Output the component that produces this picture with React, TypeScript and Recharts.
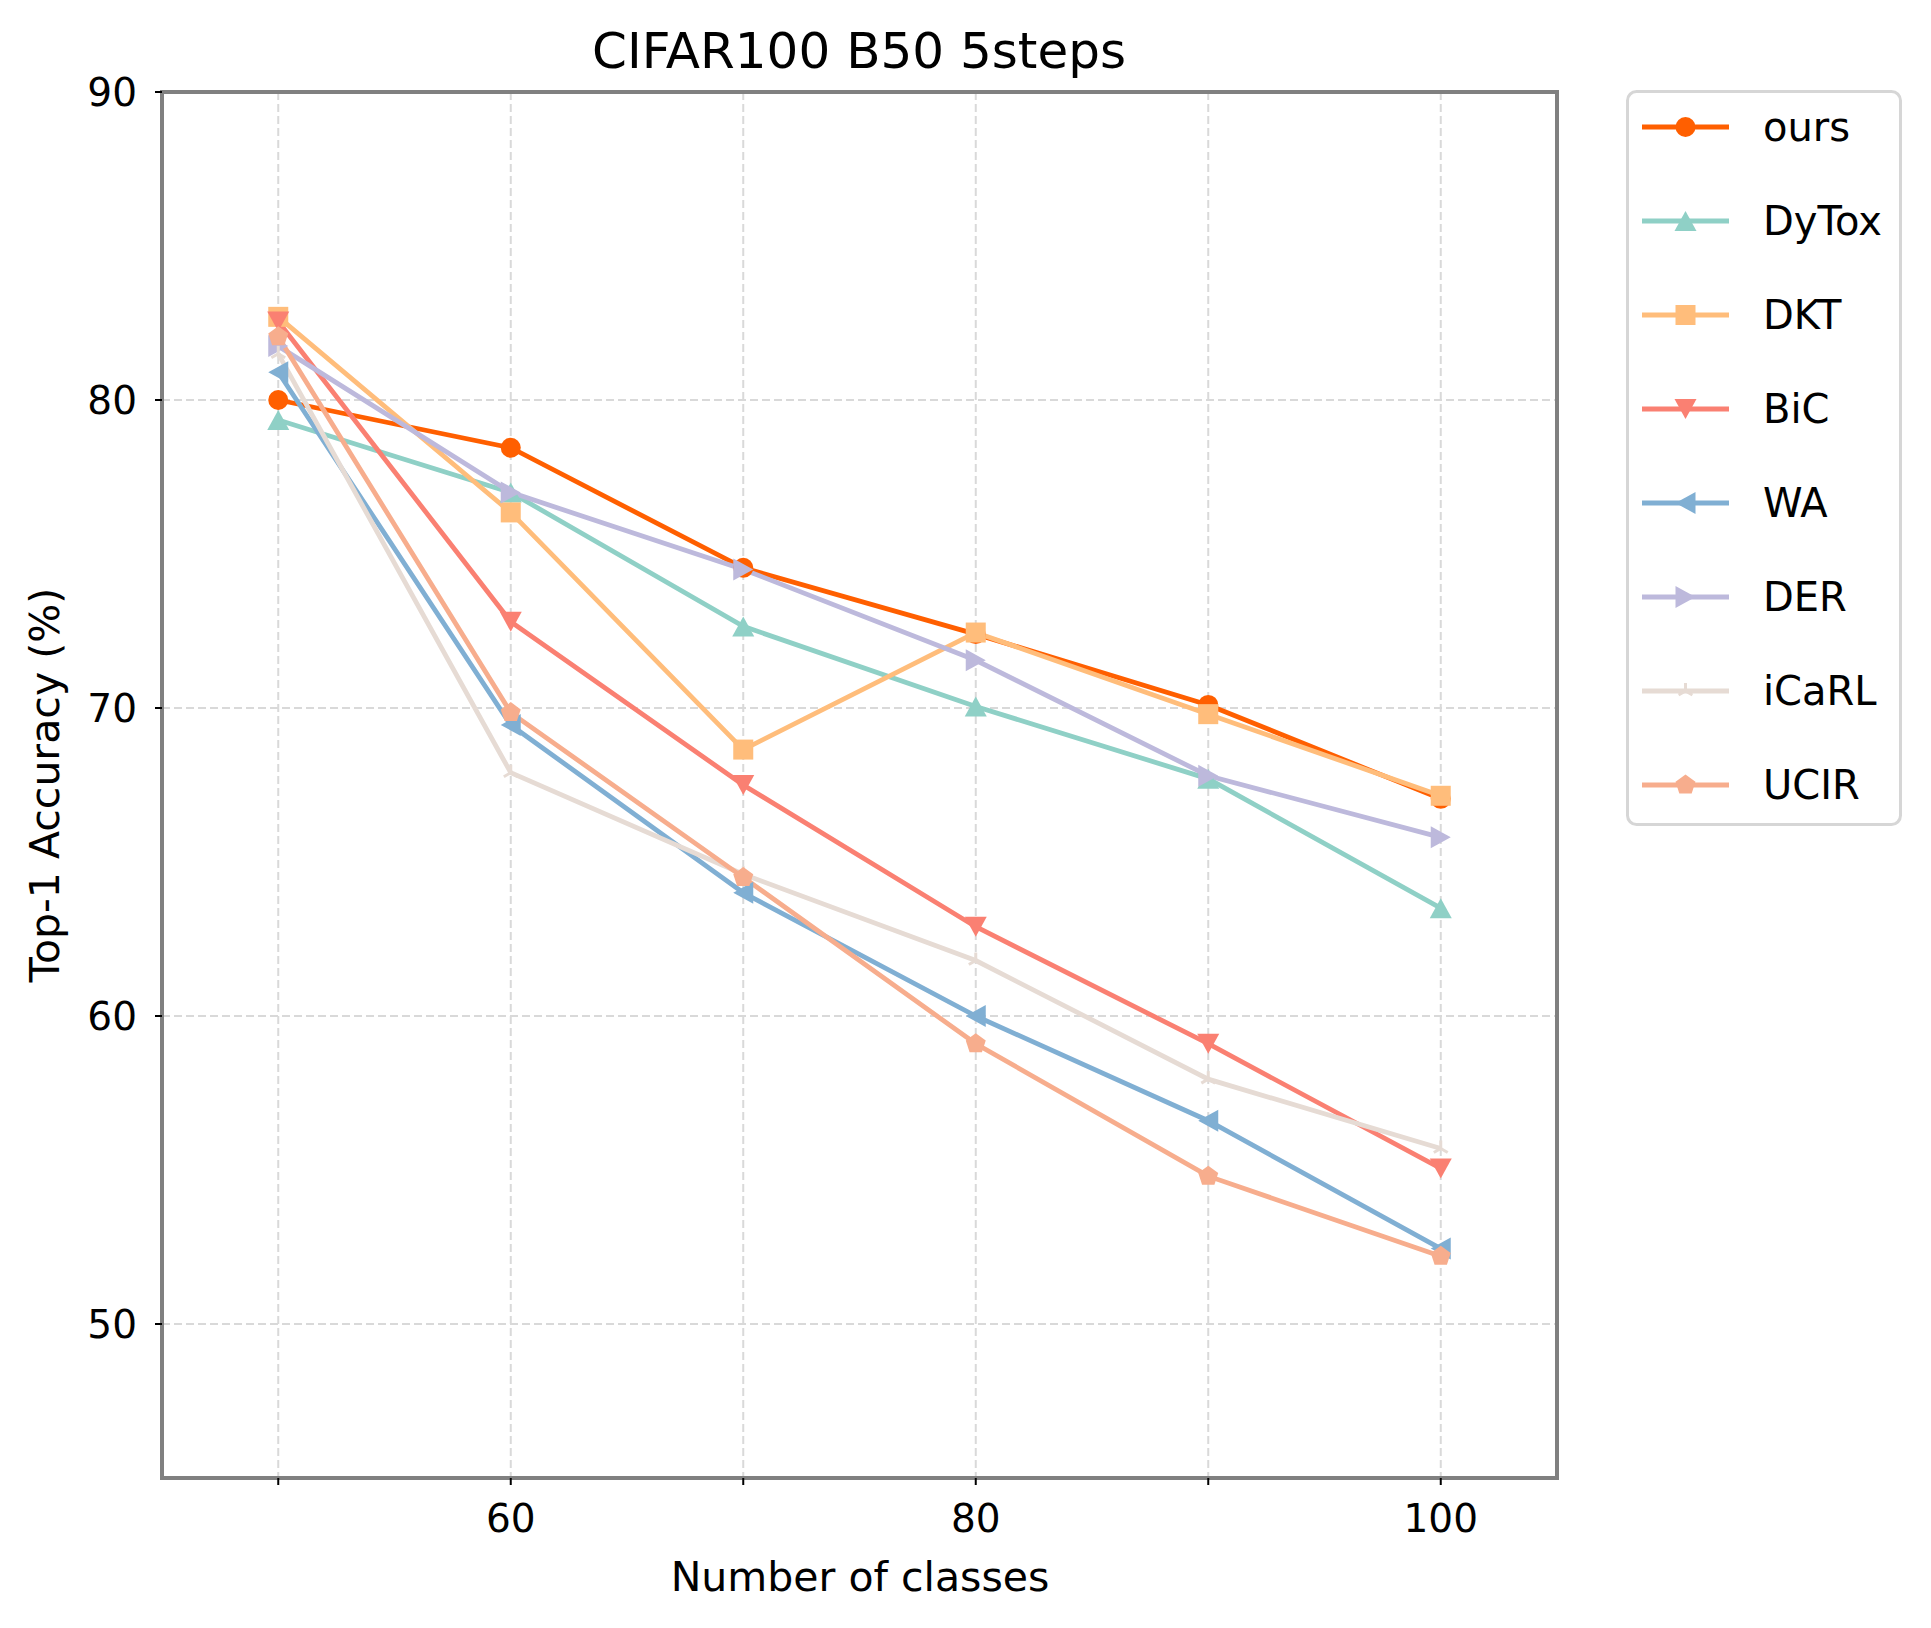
import React from 'react';
import { LineChart, Line, XAxis, YAxis, CartesianGrid, ReferenceArea, Legend } from 'recharts';

// ---------- data ----------
const classes = [50, 60, 70, 80, 90, 100];
const seriesNames = ['ours', 'DyTox', 'DKT', 'BiC', 'WA', 'DER', 'iCaRL', 'UCIR'];
const ours = [80.0, 78.45, 74.55, 72.4, 70.1, 67.05];
const dytox = [79.35, 77.0, 72.65, 70.05, 67.7, 63.5];
const dkt = [82.7, 76.35, 68.65, 72.45, 69.8, 67.15];
const bic = [82.55, 72.8, 67.5, 62.9, 59.1, 55.05];
const wa = [80.9, 69.45, 64.0, 60.0, 56.6, 52.45];
const der = [81.75, 77.0, 74.5, 71.55, 67.8, 65.8];
const icarl = [81.5, 67.9, 64.6, 61.8, 57.95, 55.7];
const ucir = [82.05, 69.85, 64.5, 59.1, 54.8, 52.2];

const xTicks = [50, 60, 70, 80, 90, 100];
const xTickLabels = ['', '60', '', '80', '', '100'];
const yTicks = [50, 60, 70, 80, 90];

const titleText = 'CIFAR100 B50 5steps';
const xLabelText = 'Number of classes';
const yLabelText = 'Top-1 Accuracy (%)';

// ---------- styles ----------
const FONT = '"DejaVu Sans", sans-serif';
const LINE_W = 4.8;

type Shape = 'circle' | 'triUp' | 'square' | 'triDown' | 'triLeft' | 'triRight' | 'tri2' | 'pentagon';

const seriesValues = [ours, dytox, dkt, bic, wa, der, icarl, ucir];
const seriesColors = ['#ff5f00', '#8fd0c6', '#ffbd7b', '#fa8072', '#80afd3', '#bdb9dc', '#e6dbd4', '#f7ad8d'];
const seriesShapes: Shape[] = ['circle', 'triUp', 'square', 'triDown', 'triLeft', 'triRight', 'tri2', 'pentagon'];

const series = seriesNames.map((name, i) => ({
  name,
  key: 's' + i,
  values: seriesValues[i],
  color: seriesColors[i],
  shape: seriesShapes[i],
}));

const data = classes.map((x, j) => {
  const row: Record<string, number> = { x };
  series.forEach((s) => {
    row[s.key] = s.values[j];
  });
  return row;
});

function Marker({ shape, cx, cy, color }: { shape: Shape; cx: number; cy: number; color: string }) {
  switch (shape) {
    case 'circle':
      return <circle cx={cx} cy={cy} r={10} fill={color} />;
    case 'square':
      return <rect x={cx - 10} y={cy - 10} width={20} height={20} fill={color} />;
    case 'triUp':
      return <polygon points={`${cx},${cy - 10} ${cx - 11},${cy + 10} ${cx + 11},${cy + 10}`} fill={color} />;
    case 'triDown':
      return <polygon points={`${cx},${cy + 10} ${cx - 11},${cy - 10} ${cx + 11},${cy - 10}`} fill={color} />;
    case 'triLeft':
      return <polygon points={`${cx - 10},${cy} ${cx + 10},${cy - 11} ${cx + 10},${cy + 11}`} fill={color} />;
    case 'triRight':
      return <polygon points={`${cx + 10},${cy} ${cx - 10},${cy - 11} ${cx - 10},${cy + 11}`} fill={color} />;
    case 'tri2': {
      const r = 8;
      return (
        <g stroke={color} strokeWidth={3} strokeLinecap="butt">
          <line x1={cx} y1={cy} x2={cx} y2={cy - r} />
          <line x1={cx} y1={cy} x2={cx - r * 0.866} y2={cy + r * 0.5} />
          <line x1={cx} y1={cy} x2={cx + r * 0.866} y2={cy + r * 0.5} />
        </g>
      );
    }
    case 'pentagon': {
      const r = 10.5;
      const pts = [0, 1, 2, 3, 4]
        .map((k) => {
          const a = (-90 + k * 72) * (Math.PI / 180);
          return `${cx + r * Math.cos(a)},${cy + r * Math.sin(a)}`;
        })
        .join(' ');
      return <polygon points={pts} fill={color} />;
    }
  }
  return null;
}

const LEG_W = 276;
const LEG_H = 736;

function LegendBox() {
  return (
    <svg width={LEG_W} height={LEG_H} style={{ display: 'block' }}>
      <rect x={1.5} y={1.5} width={LEG_W - 3} height={LEG_H - 3} rx={9} ry={9} fill="#ffffff" stroke="#d6d6d6" strokeWidth={3} />
      {series.map((s, i) => {
        const cy = 37 + i * 94;
        return (
          <g key={s.name}>
            <line x1={16} x2={103} y1={cy} y2={cy} stroke={s.color} strokeWidth={LINE_W} />
            <Marker shape={s.shape} cx={59.5} cy={cy} color={s.color} />
            <text x={137} y={cy} dominantBaseline="central" fontSize={40} fontFamily={FONT} fill="#000">
              {s.name}
            </text>
          </g>
        );
      })}
    </svg>
  );
}

export default function App() {
  const tickStyle = { fill: '#000', fontSize: 39, fontFamily: FONT };
  return (
    <div style={{ position: 'absolute', left: 0, top: 0, width: 1931, height: 1628, background: '#fff' }}>
      <LineChart
        width={1931}
        height={1628}
        data={data}
        margin={{ top: 92, right: 374, bottom: 0, left: 0 }}
        style={{ fontFamily: FONT }}
      >
        <CartesianGrid stroke="#d9d9d9" strokeDasharray="8 4" strokeWidth={2} />
        <XAxis
          dataKey="x"
          type="number"
          domain={[45, 105]}
          ticks={xTicks}
          interval={0}
          allowDataOverflow
          tickFormatter={(v: number) => xTickLabels[xTicks.indexOf(v)] ?? ''}
          tick={tickStyle}
          tickLine={{ stroke: '#000', strokeWidth: 2 }}
          tickSize={7}
          tickMargin={19}
          axisLine={false}
          height={150}
        />
        <YAxis
          type="number"
          domain={[45, 90]}
          ticks={yTicks}
          interval={0}
          allowDataOverflow
          tick={tickStyle}
          tickLine={{ stroke: '#000', strokeWidth: 2 }}
          tickSize={7}
          tickMargin={18}
          axisLine={false}
          width={162}
        />
        {series.map((s) => (
          <Line
            key={s.key}
            type="linear"
            dataKey={s.key}
            name={s.name}
            stroke={s.color}
            strokeWidth={LINE_W}
            isAnimationActive={false}
            activeDot={false}
            dot={(p: any) => (
              <Marker key={`${s.key}-${p.index}`} shape={s.shape} cx={p.cx} cy={p.cy} color={s.color} />
            )}
          />
        ))}
        <ReferenceArea
          x1={45}
          x2={105}
          y1={45}
          y2={90}
          fill="none"
          fillOpacity={0}
          stroke="#808080"
          strokeWidth={4}
          ifOverflow="visible"
        />
        <Legend
          layout="vertical"
          align="center"
          verticalAlign="middle"
          width={LEG_W}
          height={LEG_H}
          wrapperStyle={{ position: 'absolute', left: 1625.5, top: 89.5, width: LEG_W, height: LEG_H }}
          content={() => <LegendBox />}
        />
      </LineChart>
      <svg
        width={1931}
        height={1628}
        style={{ position: 'absolute', left: 0, top: 0, pointerEvents: 'none' }}
      >
        <text x={859} y={68} textAnchor="middle" fontSize={50} fontFamily={FONT} fill="#000">
          {titleText}
        </text>
        <text x={860} y={1591} textAnchor="middle" fontSize={41} fontFamily={FONT} fill="#000">
          {xLabelText}
        </text>
        <text
          x={59}
          y={785}
          textAnchor="middle"
          fontSize={41}
          fontFamily={FONT}
          fill="#000"
          transform="rotate(-90, 59, 785)"
        >
          {yLabelText}
        </text>
      </svg>
    </div>
  );
}
